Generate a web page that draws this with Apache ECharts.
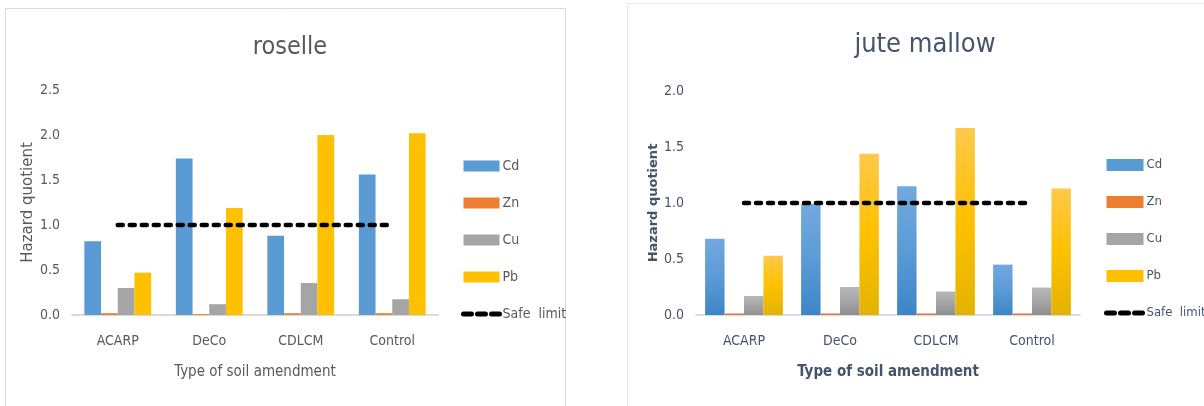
<!DOCTYPE html>
<html>
<head>
<meta charset="utf-8">
<script src="https://cdn.jsdelivr.net/npm/echarts@6/dist/echarts.min.js"></script>
<style>
  html, body { margin: 0; padding: 0; background: #ffffff; }
  #chart { width: 1204px; height: 406px; }
</style>
</head>
<body>
<div id="chart"></div>
<script>
// soil amendments on the x axis, same for both crops
const categories = ['ACARP', 'DeCo', 'CDLCM', 'Control'];
const metals = ['Cd', 'Zn', 'Cu', 'Pb'];

// roselle hazard quotients
const roselleCd = [0.82, 1.74, 0.88, 1.56];
const roselleZn = [0.02, 0.01, 0.02, 0.02];
const roselleCu = [0.30, 0.12, 0.355, 0.175];
const rosellePb = [0.47, 1.19, 2.00, 2.02];

// jute mallow hazard quotients
const juteCd = [0.68, 0.99, 1.15, 0.45];
const juteZn = [0.015, 0.015, 0.015, 0.015];
const juteCu = [0.17, 0.25, 0.21, 0.245];
const jutePb = [0.53, 1.44, 1.67, 1.13];

const safeLimit = [1, 1, 1, 1];

const narrow = '"Liberation Sans Narrow", "DejaVu Sans Condensed", sans-serif';
const grayText = '#595959';
const slateText = '#44546A';

const flatColors = ['#5B9BD5', '#ED7D31', '#A5A5A5', '#FFC000'];
function grad(top, mid, bottom) {
    return new echarts.graphic.LinearGradient(0, 0, 0, 1, [
        {offset: 0, color: top},
        {offset: 0.5, color: mid},
        {offset: 1, color: bottom}
    ]);
}
const gradColors = [
    grad('#72A9DE', '#5B9BD5', '#3E85C6'),
    grad('#F79A63', '#ED7D31', '#E0691F'),
    grad('#B8B8B8', '#A5A5A5', '#8F8F8F'),
    grad('#FFC94A', '#FFC000', '#E3B300')
];

const chart = echarts.init(document.getElementById('chart'));

const dashStyle = {color: '#000000', width: 4.5, type: [5, 7], cap: 'round'};
const legendDash = {color: '#000000', width: 5, type: [8, 6], cap: 'round'};

function lineSeries(idx) {
    return {
        name: 'Safe  limit',
        type: 'line',
        xAxisIndex: idx,
        yAxisIndex: idx,
        data: safeLimit,
        symbol: 'none',
        z: 5,
        itemStyle: {color: '#000000'},
        lineStyle: dashStyle,
        emphasis: {disabled: true}
    };
}

function yAxis(idx, max, color, bold, nameGap) {
    return {
        type: 'value',
        gridIndex: idx,
        min: 0,
        max: max,
        interval: 0.5,
        name: 'Hazard quotient',
        nameLocation: 'middle',
        nameGap: nameGap,
        nameTextStyle: {
            color: color,
            fontFamily: 'DejaVu Sans',
            fontSize: bold ? 13 : 15,
            fontWeight: bold ? 'bold' : 'normal'
        },
        axisLine: {show: false},
        axisTick: {show: false},
        splitLine: {show: false},
        axisLabel: {
            color: color,
            fontFamily: narrow,
            fontSize: 14,
            margin: 12,
            formatter: v => v.toFixed(1)
        }
    };
}

function xAxis(idx, color, lineColor, bold) {
    return {
        type: 'category',
        gridIndex: idx,
        data: categories,
        name: 'Type of soil amendment',
        nameLocation: 'middle',
        nameGap: 50,
        nameTextStyle: {
            color: color,
            fontFamily: narrow,
            fontSize: 15,
            fontWeight: bold ? 'bold' : 'normal'
        },
        axisLine: {lineStyle: {color: lineColor, width: 2}},
        axisTick: {show: false},
        axisLabel: {color: color, fontFamily: narrow, fontSize: 14, margin: 19}
    };
}

function legend(left, top, color, w, h, size) {
    return {
        orient: 'vertical',
        left: left,
        top: top,
        padding: 0,
        itemWidth: w,
        itemHeight: h,
        itemGap: 23,
        selectedMode: false,
        lineStyle: legendDash,
        data: metals.map(m => ({name: m, icon: 'rect'})).concat([{
            name: 'Safe  limit',
            itemStyle: {opacity: 0},
            lineStyle: legendDash
        }]),
        textStyle: {color: color, fontFamily: narrow, fontSize: size, lineHeight: 14, padding: [0, 0, 0, -2]}
    };
}

const roselleData = [roselleCd, roselleZn, roselleCu, rosellePb];
const juteData = [juteCd, juteZn, juteCu, jutePb];

chart.setOption({
    backgroundColor: '#ffffff',
    animation: false,
    graphic: [
        {type: 'rect', shape: {x: 5.5, y: 8.5, width: 560, height: 420}, style: {fill: 'none', stroke: '#D9D9D9', lineWidth: 1}},
        {type: 'rect', shape: {x: 627.5, y: 3.5, width: 600, height: 420}, style: {fill: 'none', stroke: '#E3E8EF', lineWidth: 1}}
    ],
    title: [
        {text: 'roselle', left: 285, top: 30, textAlign: 'center',
         textStyle: {color: grayText, fontFamily: narrow, fontSize: 25, fontWeight: 'normal'}},
        {text: 'jute mallow', left: 920, top: 26, textAlign: 'center',
         textStyle: {color: slateText, fontFamily: narrow, fontSize: 27, fontWeight: 'normal'}}
    ],
    legend: [
        legend(461, 159, grayText, 36, 11, 14),
        legend(1104, 158, slateText, 37, 12, 13)
    ],
    grid: [
        {left: 72, top: 90, width: 366, height: 225},
        {left: 696, top: 91, width: 384, height: 224}
    ],
    xAxis: [
        xAxis(0, grayText, '#D9D9D9', false),
        xAxis(1, slateText, '#D6DDE8', true)
    ],
    yAxis: [
        yAxis(0, 2.5, grayText, false, 34),
        yAxis(1, 2.0, slateText, true, 35)
    ],
    series: []
        .concat(metals.map((m, i) => ({
            name: m, type: 'bar', xAxisIndex: 0, yAxisIndex: 0, data: roselleData[i],
            barGap: '0%', barCategoryGap: '27%', itemStyle: {color: flatColors[i]},
            emphasis: {disabled: true}
        })))
        .concat([lineSeries(0)])
        .concat(metals.map((m, i) => ({
            name: m, type: 'bar', xAxisIndex: 1, yAxisIndex: 1, data: juteData[i],
            barGap: '0%', barCategoryGap: '19%', itemStyle: {color: gradColors[i]},
            emphasis: {disabled: true}
        })))
        .concat([lineSeries(1)])
});
</script>
</body>
</html>
